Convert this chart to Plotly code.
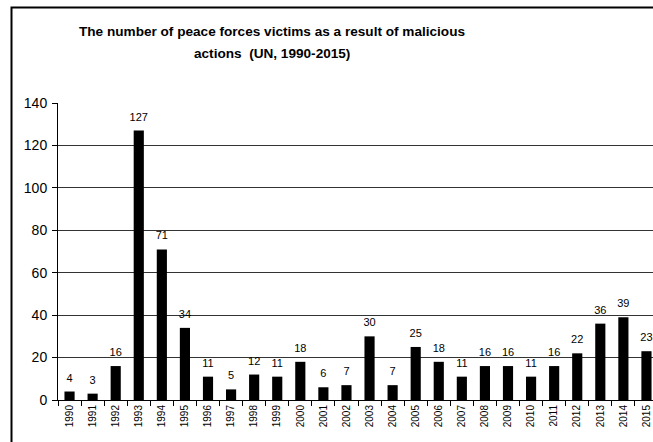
import plotly.graph_objects as go

years = [str(y) for y in range(1990, 2016)]
victims = [4, 3, 16, 127, 71, 34, 11, 5, 12, 11, 18, 6, 7, 30, 7, 25, 18, 11, 16, 16, 11, 16, 22, 36, 39, 23]
y_ticks = [0, 20, 40, 60, 80, 100, 120, 140]
title_line1 = "The number of peace forces victims as a result of malicious"
title_line2 = "actions  (UN, 1990-2015)"

FONT = "Liberation Sans, Arial, sans-serif"
W, H = 660, 442
ML, MR, MT, MB = 58, 2, 103, 42
pw = W - ML - MR
ph = H - MT - MB

fig = go.Figure()
fig.add_trace(go.Bar(
    x=years, y=victims,
    marker=dict(color="black", line=dict(width=0)),
    width=0.44,
    hoverinfo="x+y",
))
fig.add_trace(go.Scatter(
    x=years, y=victims,
    mode="markers+text",
    marker=dict(size=10, opacity=0, color="white"),
    text=[str(v) for v in victims],
    textposition="top center",
    textfont=dict(family=FONT, size=11, color="black"),
    cliponaxis=False,
    hoverinfo="skip",
))

annotations = []
for txt, py in [(title_line1, 31), (title_line2, 54)]:
    annotations.append(dict(
        text="<b>" + txt + "</b>",
        xref="paper", yref="paper",
        x=(272 - ML) / pw, y=(H - MB - py) / ph,
        xanchor="center", yanchor="middle",
        showarrow=False,
        font=dict(family=FONT, size=13.6, color="black"),
    ))

fig.update_layout(
    width=W, height=H,
    margin=dict(l=ML, r=MR, t=MT, b=MB),
    paper_bgcolor="white", plot_bgcolor="white",
    font=dict(family=FONT, color="black"),
    showlegend=False,
    xaxis=dict(
        type="category", range=[-0.5, 25.5],
        showline=True, linecolor="black", linewidth=1,
        ticks="outside", tickson="boundaries", ticklen=5, tickcolor="black",
        tickangle=-90, tickfont=dict(size=10, family=FONT), showgrid=False,
    ),
    yaxis=dict(
        range=[0, 140], tickvals=y_ticks,
        showline=True, linecolor="black", linewidth=1,
        ticks="outside", ticklen=5, tickcolor="black",
        tickfont=dict(size=14, family=FONT), ticklabelstandoff=2,
        showgrid=True, gridcolor="#333", gridwidth=1, zeroline=False,
    ),
    shapes=[dict(
        type="rect", xref="paper", yref="paper",
        x0=(11.5 - ML) / pw, x1=1.2,
        y0=-0.3, y1=(H - MB - 7.5) / ph,
        line=dict(color="black", width=2), fillcolor="rgba(0,0,0,0)",
        layer="above",
    )],
    annotations=annotations,
)

fig.write_html("out.html", post_script="document.body.style.overflow='hidden';document.documentElement.style.overflow='hidden';")
